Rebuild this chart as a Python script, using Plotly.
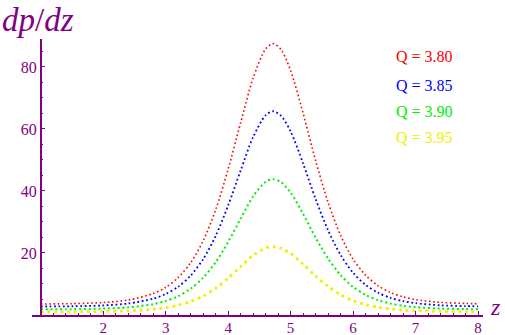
import plotly.graph_objects as go

# Data
z = [1.0, 1.5, 2.0, 2.4, 2.8, 3.0, 3.2, 3.4, 3.6, 3.8, 4.0, 4.2, 4.4, 4.6, 4.72,
     4.85, 5.0, 5.2, 5.4, 5.6, 5.8, 6.0, 6.2, 6.4, 6.6, 6.8, 7.0, 7.4, 7.8, 8.0]

q380 = [3.55, 3.66, 4.01, 4.83, 6.91, 8.91, 12.04, 16.85, 23.94, 33.9, 47.0, 62.0, 76.4, 85.8, 87.5,
        85.5, 78.8, 65.1, 49.8, 36.3, 25.7, 18.0, 12.85, 9.44, 7.24, 5.84, 4.97, 4.07, 3.72, 3.64]
q385 = [2.74, 2.82, 3.08, 3.70, 5.26, 6.76, 9.11, 12.71, 18.03, 25.5, 35.3, 46.6, 57.4, 64.4, 65.7,
        64.2, 59.2, 48.9, 37.4, 27.3, 19.35, 13.6, 9.71, 7.16, 5.51, 4.46, 3.80, 3.13, 2.87, 2.81]
q390 = [1.83, 1.88, 2.06, 2.47, 3.51, 4.51, 6.07, 8.48, 12.02, 17.0, 23.55, 31.05, 38.25, 42.95, 43.8,
        42.8, 39.45, 32.6, 24.95, 18.2, 12.9, 9.05, 6.48, 4.77, 3.67, 2.97, 2.54, 2.09, 1.91, 1.87]
q395 = [1.01, 1.04, 1.13, 1.33, 1.85, 2.35, 3.14, 4.34, 6.11, 8.6, 11.88, 15.63, 19.23, 21.58, 22.0,
        21.5, 19.83, 16.4, 12.58, 9.2, 6.55, 4.63, 3.34, 2.49, 1.94, 1.59, 1.37, 1.14, 1.06, 1.04]

labels = ["Q = 3.80", "Q = 3.85", "Q = 3.90", "Q = 3.95"]
colors = ["#ff0000", "#0000ff", "#00ee00", "#f0f000"]
series = [q380, q385, q390, q395]
widths = [1.6, 1.8, 2.0, 2.8]
dashes = ["1.6px,2.6px", "1.8px,2.6px", "2px,2.8px", "2.8px,3.8px"]

x_ticks = [2, 3, 4, 5, 6, 7, 8]
y_ticks = [20, 40, 60, 80]

PURPLE = "#800080"
SERIF = "Liberation Serif, Times New Roman, serif"

fig = go.Figure()
for ys, c, w, d in zip(series, colors, widths, dashes):
    fig.add_trace(go.Scatter(x=z, y=ys, mode="lines",
                             line=dict(color=c, width=w, dash=d, shape="spline", smoothing=0.8),
                             showlegend=False, hoverinfo="skip"))

x0, x1 = 0.86, 8.08
ypos = (1 - x0) / (x1 - x0)

fig.update_layout(
    width=505, height=335,
    margin=dict(l=32, r=22, t=39, b=20),
    paper_bgcolor="white", plot_bgcolor="white",
    template="none",
    font=dict(family=SERIF, color=PURPLE, size=16),
    xaxis=dict(range=[x0, x1], showgrid=False, zeroline=False,
               showline=True, linecolor=PURPLE, linewidth=1.5,
               tickmode="array", tickvals=x_ticks, ticktext=[str(v) for v in x_ticks],
               ticks="inside", ticklen=4, tickwidth=1, tickcolor=PURPLE,
               ticklabelstandoff=-2,
               tickfont=dict(family=SERIF, size=15, color=PURPLE),
               minor=dict(tickmode="linear", tick0=1, dtick=0.2, ticks="inside",
                          ticklen=2, tickcolor=PURPLE, showgrid=False),
               automargin=False),
    yaxis=dict(range=[0, 89], showgrid=False, zeroline=False,
               anchor="free", position=ypos,
               showline=True, linecolor=PURPLE, linewidth=1.5,
               tickmode="array", tickvals=y_ticks, ticktext=[str(v) for v in y_ticks],
               ticks="inside", ticklen=4, tickwidth=1, tickcolor=PURPLE,
               tickfont=dict(family=SERIF, size=16, color=PURPLE),
               minor=dict(tickmode="linear", tick0=0, dtick=5, ticks="inside",
                          ticklen=2, tickcolor=PURPLE, showgrid=False),
               automargin=False),
)

# plot area pixel geometry for annotation placement
L, R, T, B = 31.75, 482.75, 39, 315
def px(xp):
    return (xp - L) / (R - L)
def py(yp):
    return (B - yp) / (B - T)

legend_y = [57, 85, 111.5, 137]
for lab, c, yy in zip(labels, colors, legend_y):
    fig.add_annotation(x=px(394), y=py(yy), xref="paper", yref="paper",
                       text=lab, showarrow=False, xanchor="left", yanchor="middle",
                       font=dict(family=SERIF, size=16, color=c))

fig.add_annotation(x=px(0), y=py(20), xref="paper", yref="paper",
                   text="<i>dp</i>/<i>dz</i>", showarrow=False, xanchor="left", yanchor="middle",
                   font=dict(family=SERIF, size=33, color=PURPLE))
fig.add_annotation(x=px(495), y=py(307), xref="paper", yref="paper",
                   text="<i>z</i>", showarrow=False, xanchor="center", yanchor="middle",
                   font=dict(family=SERIF, size=24, color=PURPLE))

fig.write_html("out.html", config={"displayModeBar": False},
               post_script="document.body.style.margin='0';document.body.style.padding='0';")
